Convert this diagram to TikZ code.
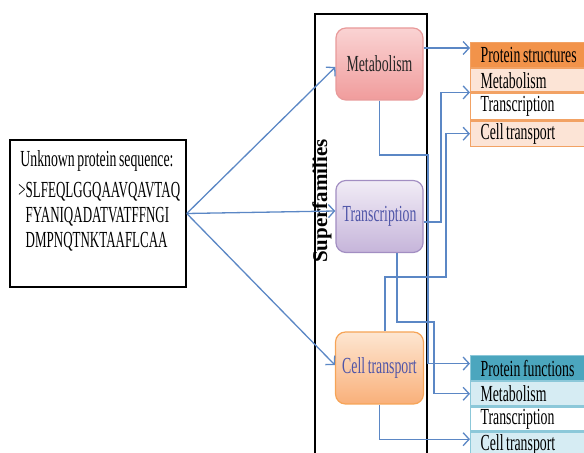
\documentclass[tikz,border=0pt]{standalone}
\usepackage{fontspec}
\setmainfont{Liberation Serif}[FakeStretch=0.6,WordSpace=0.75]
\newfontfamily\seqfont{Liberation Serif}[FakeStretch=0.565,WordSpace=0.75]
\newfontfamily\widefont{Liberation Serif}
\usetikzlibrary{arrows.meta,positioning}
\definecolor{linkblue}{HTML}{5B87C5}
\definecolor{metatop}{HTML}{FAD3D3}
\definecolor{metabot}{HTML}{F09C9C}
\definecolor{metaedge}{HTML}{E89A9A}
\definecolor{trantop}{HTML}{F1ECF6}
\definecolor{tranbot}{HTML}{C6B5DA}
\definecolor{tranedge}{HTML}{A28EC2}
\definecolor{celltop}{HTML}{FDE6D1}
\definecolor{cellbot}{HTML}{F9B07A}
\definecolor{celledge}{HTML}{F6A457}
\definecolor{famtext}{HTML}{4F55A8}
\definecolor{orangehead}{HTML}{F2934A}
\definecolor{peach}{HTML}{FCE4D6}
\definecolor{orangeline}{HTML}{F2A264}
\definecolor{tealhead}{HTML}{4BA6BE}
\definecolor{paleblue}{HTML}{D6ECF3}
\definecolor{tealline}{HTML}{8CC8D9}

\begin{document}
\begin{tikzpicture}[x=0.5pt,y=-0.5pt,
  conn/.style={draw=linkblue, line width=0.65pt, -{Straight Barb[length=3pt,width=6.5pt]}},
  famnode/.style={rounded corners=5pt, minimum width=43.5pt, minimum height=36pt, line width=0.6pt, font=\fontsize{11.5}{13}\selectfont},
  srow/.style={draw=orangeline, line width=0.6pt, minimum height=12.5pt, inner xsep=5pt, inner ysep=0pt, text width=55pt, align=flush left, font=\fontsize{11.5}{13}\selectfont},
  frow/.style={srow, draw=tealline}
]
\useasboundingbox (0,0) rectangle (584,453);

% sequence box
\node[draw, line width=0.75pt, minimum width=88pt, minimum height=73.5pt] (seq) at (98,213.5) {};
\node[anchor=north west, align=left, inner sep=0pt, font=\fontsize{11.5}{12.5}\selectfont] (seqtext) at (18,150)
  {\hspace{1pt}Unknown protein sequence:\\[3pt] \seqfont >SLFEQLGGQAAVQAVTAQ\\ \seqfont\phantom{>}FYANIQADATVATFFNGI\\ \seqfont\phantom{>}DMPNQTNKTAAFLCAA};

% superfamilies
\node[draw, line width=0.75pt, minimum width=56pt, minimum height=225pt] (supbox) at (371,239) {};
\node[rotate=90, inner sep=0pt, font=\widefont\bfseries\fontsize{10.5}{12}\selectfont] (suplabel) at (322,201) {Superfamilies};

\node[famnode, draw=metaedge, top color=metatop, bottom color=metabot, text=black!85] (meta) at (379.5,64) {Metabolism};
\node[famnode, draw=tranedge, top color=trantop, bottom color=tranbot, text=famtext] (tran) at (379.5,216.5) {Transcription};
\node[famnode, draw=celledge, top color=celltop, bottom color=cellbot, text=famtext] (cell) at (379.5,368) {Cell transport};

% protein structures
\node[srow, fill=orangehead, anchor=north west] (sHead) at (470,42) {Protein structures};
\node[srow, fill=peach, minimum height=11.5pt, below=0pt of sHead] (sMeta) {Metabolism};
\node[srow, fill=white, minimum height=13.5pt, below=0pt of sMeta] (sTran) {Transcription};
\node[srow, fill=peach, below=0pt of sTran] (sCell) {Cell transport};

% protein functions
\node[frow, fill=tealhead, anchor=north west] (fHead) at (470,355) {Protein functions};
\node[frow, fill=paleblue, minimum height=12pt, below=0pt of fHead] (fMeta) {Metabolism};
\node[frow, fill=white, minimum height=12pt, below=0pt of fMeta] (fTran) {Transcription};
\node[frow, fill=paleblue, below=0pt of fTran] (fCell) {Cell transport};

% bend points
\coordinate (colA) at (428,0);
\coordinate (colB) at (434,0);
\coordinate (colT) at (441,0);
\coordinate (colC) at (446,0);
\coordinate (rowM) at (0,155);
\coordinate (rowC) at (0,277);
\coordinate (rowT) at (0,322);

\draw[conn] (seq.east) -- ([yshift=-1.5pt]meta.west);
\draw[conn] (seq.east) -- ([yshift=2.75pt]tran.west);
\draw[conn] (seq.east) -- ([yshift=1.5pt]cell.west);

\draw[conn] ([yshift=8pt]meta.east) -- ([yshift=8pt]meta.east -| sHead.west);
\draw[conn] (meta.south) |- (colA |- rowM) |- ([yshift=2.25pt]fHead.west);
\draw[conn] ([yshift=-2.75pt]tran.east) -| (colT |- sTran.north west) -- (sTran.north west);
\draw[conn] ([xshift=2.75pt]cell.north) |- (colC |- rowC) |- (sCell.west);
\draw[conn] ([xshift=8.75pt]tran.south) |- (colB |- rowT) |- (fMeta.west);
\draw[conn] (cell.south) |- ([yshift=2.75pt]fCell.west);
\end{tikzpicture}
\end{document}
